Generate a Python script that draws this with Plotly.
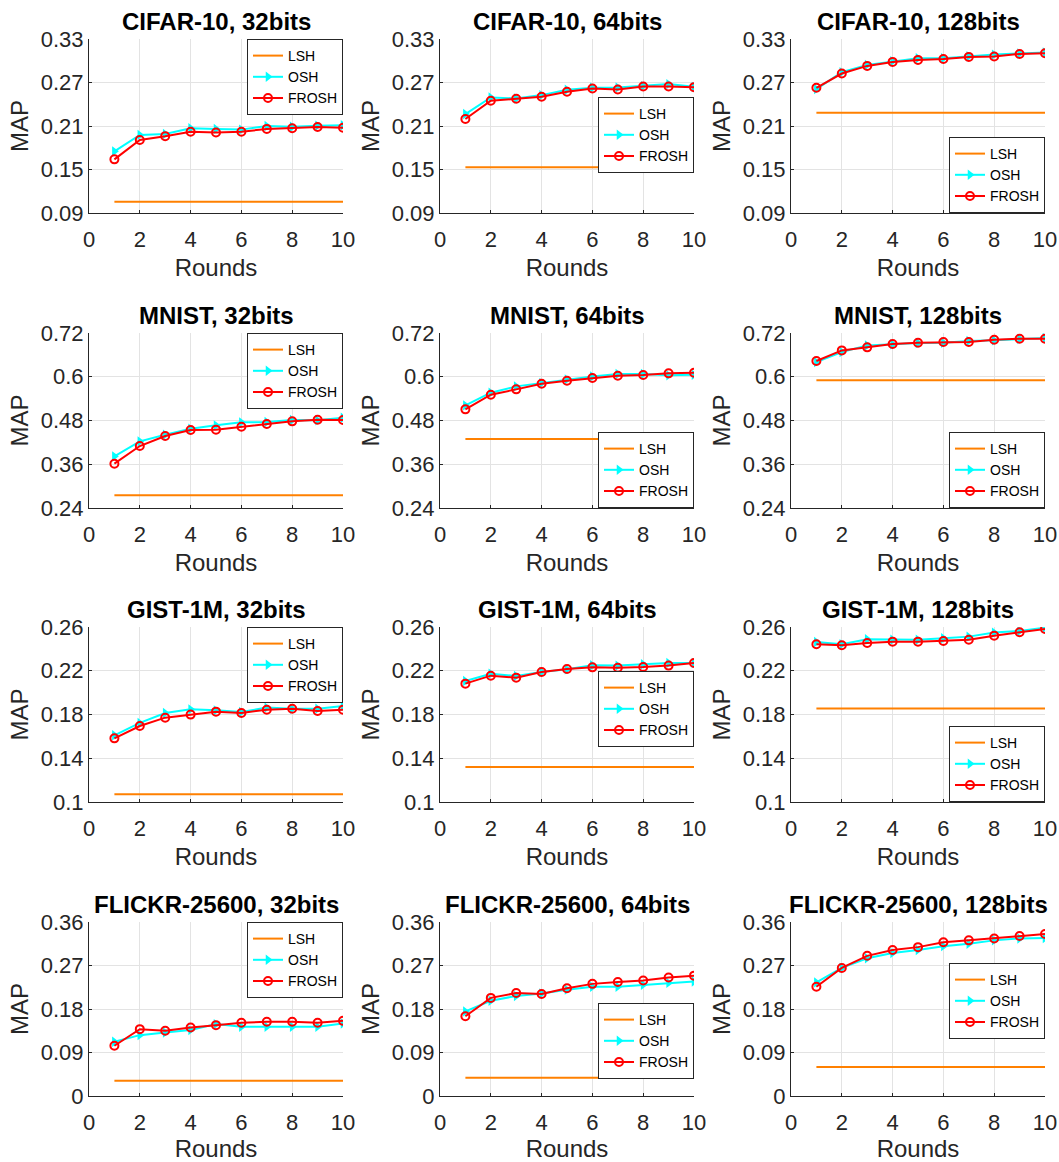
import plotly.graph_objects as go

W, H = 1059, 1162
rounds = list(range(1, 11))

titles = ["CIFAR-10, 32bits", "CIFAR-10, 64bits", "CIFAR-10, 128bits",
          "MNIST, 32bits", "MNIST, 64bits", "MNIST, 128bits",
          "GIST-1M, 32bits", "GIST-1M, 64bits", "GIST-1M, 128bits",
          "FLICKR-25600, 32bits", "FLICKR-25600, 64bits", "FLICKR-25600, 128bits"]

# LSH baselines (constant over rounds)
lsh_values = [0.1056, 0.153, 0.2283,
              0.2747, 0.4292, 0.5901,
              0.107, 0.132, 0.1856,
              0.0317, 0.038, 0.060]

osh_cifar32 = [0.175, 0.1977, 0.199, 0.207, 0.206, 0.205, 0.210, 0.209, 0.2105, 0.211]
osh_cifar64 = [0.2265, 0.2494, 0.248, 0.2526, 0.260, 0.2627, 0.263, 0.265, 0.2678, 0.264]
osh_cifar128 = [0.2609, 0.2842, 0.2943, 0.2993, 0.3034, 0.3034, 0.3062, 0.3085, 0.310, 0.3113]
osh_mnist32 = [0.3817, 0.4228, 0.441, 0.4576, 0.4667, 0.4749, 0.4758, 0.4813, 0.4804, 0.4877]
osh_mnist64 = [0.5215, 0.5563, 0.5736, 0.5828, 0.5928, 0.601, 0.6074, 0.6074, 0.6038, 0.6056]
osh_mnist128 = [0.640, 0.6678, 0.686, 0.689, 0.6925, 0.6934, 0.698, 0.6998, 0.7034, 0.7062]
osh_gist32 = [0.161, 0.1723, 0.1814, 0.1847, 0.1838, 0.1823, 0.1863, 0.1853, 0.1853, 0.1878]
osh_gist64 = [0.2106, 0.2173, 0.2152, 0.2189, 0.2213, 0.2250, 0.2247, 0.2259, 0.2271, 0.2271]
osh_gist128 = [0.2463, 0.2442, 0.2488, 0.2484, 0.2484, 0.2497, 0.2512, 0.2549, 0.2564, 0.2594]
osh_flickr32 = [0.1122, 0.1259, 0.1315, 0.1363, 0.1487, 0.1431, 0.1431, 0.1431, 0.1431, 0.150]
osh_flickr64 = [0.175, 0.197, 0.207, 0.212, 0.220, 0.226, 0.226, 0.230, 0.234, 0.237]
osh_flickr128 = [0.235, 0.265, 0.285, 0.296, 0.302, 0.310, 0.315, 0.322, 0.326, 0.327]

frosh_cifar32 = [0.164, 0.1908, 0.196, 0.202, 0.201, 0.202, 0.206, 0.207, 0.2087, 0.2077]
frosh_cifar64 = [0.2196, 0.2448, 0.2476, 0.2503, 0.2572, 0.2618, 0.2604, 0.2645, 0.2645, 0.2636]
frosh_cifar128 = [0.2627, 0.2824, 0.2929, 0.2984, 0.3012, 0.3025, 0.3053, 0.3058, 0.3094, 0.3103]
frosh_mnist32 = [0.3616, 0.410, 0.4375, 0.454, 0.4549, 0.463, 0.4704, 0.4777, 0.4822, 0.4813]
frosh_mnist64 = [0.5106, 0.5508, 0.5654, 0.581, 0.5892, 0.5965, 0.6029, 0.6047, 0.6093, 0.6111]
frosh_mnist128 = [0.6431, 0.6723, 0.6806, 0.6897, 0.6934, 0.6952, 0.6952, 0.7015, 0.7043, 0.7043]
frosh_gist32 = [0.1582, 0.1695, 0.1771, 0.1799, 0.1826, 0.1814, 0.1844, 0.1853, 0.1832, 0.1844]
frosh_gist64 = [0.2082, 0.2155, 0.2137, 0.2189, 0.2216, 0.2231, 0.2228, 0.2234, 0.2247, 0.2271]
frosh_gist128 = [0.2442, 0.2433, 0.2454, 0.2466, 0.2466, 0.2472, 0.2484, 0.2521, 0.2552, 0.2582]
frosh_flickr32 = [0.1039, 0.1383, 0.1349, 0.1418, 0.1466, 0.1514, 0.1535, 0.1535, 0.1514, 0.1555]
frosh_flickr64 = [0.165, 0.203, 0.213, 0.211, 0.223, 0.232, 0.236, 0.239, 0.245, 0.249]
frosh_flickr128 = [0.226, 0.265, 0.290, 0.302, 0.308, 0.318, 0.322, 0.326, 0.331, 0.335]

osh_all = [osh_cifar32, osh_cifar64, osh_cifar128, osh_mnist32, osh_mnist64, osh_mnist128,
           osh_gist32, osh_gist64, osh_gist128, osh_flickr32, osh_flickr64, osh_flickr128]
frosh_all = [frosh_cifar32, frosh_cifar64, frosh_cifar128, frosh_mnist32, frosh_mnist64, frosh_mnist128,
             frosh_gist32, frosh_gist64, frosh_gist128, frosh_flickr32, frosh_flickr64, frosh_flickr128]

# y tick values / labels per row
ytick_cifar = [0.09, 0.15, 0.21, 0.27, 0.33]
ylab_cifar = ["0.09", "0.15", "0.21", "0.27", "0.33"]
ytick_mnist = [0.24, 0.36, 0.48, 0.60, 0.72]
ylab_mnist = ["0.24", "0.36", "0.48", "0.6", "0.72"]
ytick_gist = [0.10, 0.14, 0.18, 0.22, 0.26]
ylab_gist = ["0.1", "0.14", "0.18", "0.22", "0.26"]
ytick_flickr = [0, 0.09, 0.18, 0.27, 0.36]
ylab_flickr = ["0", "0.09", "0.18", "0.27", "0.36"]
row_ticks = [(ytick_cifar, ylab_cifar), (ytick_mnist, ylab_mnist),
             (ytick_gist, ylab_gist), (ytick_flickr, ylab_flickr)]

xticks = [0, 2, 4, 6, 8, 10]

# ---- layout geometry (pixels) ----
col_px = [(89, 343), (440, 694), (791, 1045)]
row_px = [(39, 213), (333, 508), (627, 802), (922, 1096)]
# legend placement per panel: 'ne', 'se', or pixel top
legend_pos = ['ne', 97, 'se',
              'ne', 'se', 'se',
              'ne', 671, 'se',
              'ne', 1003, 963]

AX = "#262626"
GRID = "#e3e3e3"
FONT = "Liberation Sans, Arial, Helvetica, sans-serif"

fig = go.Figure()
layout = dict(width=W, height=H, margin=dict(l=0, r=0, t=0, b=0, autoexpand=False),
              paper_bgcolor="white", plot_bgcolor="white",
              font=dict(family=FONT, color=AX), annotations=[])

for i in range(12):
    r, c = divmod(i, 3)
    n = i + 1
    sfx = "" if n == 1 else str(n)
    xa, ya = "x" + sfx, "y" + sfx
    lg = "legend" + sfx
    x0, x1 = col_px[c]
    y0, y1 = row_px[r]
    xd = [x0 / W, x1 / W]
    yd = [1 - y1 / H, 1 - y0 / H]
    tv, tt = row_ticks[r]

    fig.add_trace(go.Scatter(x=rounds, y=[lsh_values[i]] * len(rounds), mode="lines",
                             name="LSH", line=dict(color="#FF8000", width=2),
                             xaxis=xa, yaxis=ya, legend=lg))
    fig.add_trace(go.Scatter(x=rounds, y=osh_all[i], mode="lines+markers", name="OSH",
                             line=dict(color="#00FFFF", width=2),
                             marker=dict(symbol="triangle-right", size=9, color="#00FFFF"),
                             xaxis=xa, yaxis=ya, legend=lg))
    fig.add_trace(go.Scatter(x=rounds, y=frosh_all[i], mode="lines+markers", name="FROSH",
                             line=dict(color="#FF0000", width=2),
                             marker=dict(symbol="circle-open", size=8, color="#FF0000",
                                         line=dict(width=2, color="#FF0000")),
                             xaxis=xa, yaxis=ya, legend=lg))

    layout["xaxis" + sfx] = dict(domain=xd, anchor=ya, range=[0, 10], tickvals=xticks,
                                 automargin=False,
                                 showgrid=True, gridcolor=GRID, gridwidth=1,
                                 showline=True, linecolor=AX, linewidth=1,
                                 ticks="inside", ticklen=3, tickcolor=AX,
                                 tickfont=dict(size=22, color=AX, family=FONT),
                                 ticklabelstandoff=7, zeroline=False,
                                 title=dict(text="Rounds", font=dict(size=24, color=AX, family=FONT),
                                            standoff=7))
    layout["yaxis" + sfx] = dict(domain=yd, anchor=xa, range=[tv[0], tv[-1]],
                                 tickvals=tv, ticktext=tt, automargin=False,
                                 showgrid=True, gridcolor=GRID, gridwidth=1,
                                 showline=True, linecolor=AX, linewidth=1,
                                 ticks="inside", ticklen=3, tickcolor=AX,
                                 tickfont=dict(size=22, color=AX, family=FONT),
                                 zeroline=False,
                                 title=dict(text="MAP", font=dict(size=24, color=AX, family=FONT),
                                            standoff=5))

    lp = legend_pos[i]
    if lp == 'ne':
        ly, lya = yd[1], "top"
    elif lp == 'se':
        ly, lya = yd[0], "bottom"
    else:
        ly, lya = 1 - lp / H, "top"
    layout[lg] = dict(x=xd[1], xanchor="right", y=ly, yanchor=lya,
                      bgcolor="white", bordercolor=AX, borderwidth=1,
                      font=dict(size=14, color="#000000", family=FONT),
                      itemwidth=30, tracegroupgap=0, itemclick=False)

    layout["annotations"].append(dict(text="<b>%s</b>" % titles[i], xref="paper", yref="paper",
                                      x=(xd[0] + xd[1]) / 2, y=yd[1] + 2 / H,
                                      xanchor="center", yanchor="bottom", showarrow=False,
                                      font=dict(size=24, color="#000000", family=FONT)))

fig.update_layout(**layout)
fig.write_html("out.html", config={"displayModeBar": False},
               post_script="document.body.style.margin='0px';")
